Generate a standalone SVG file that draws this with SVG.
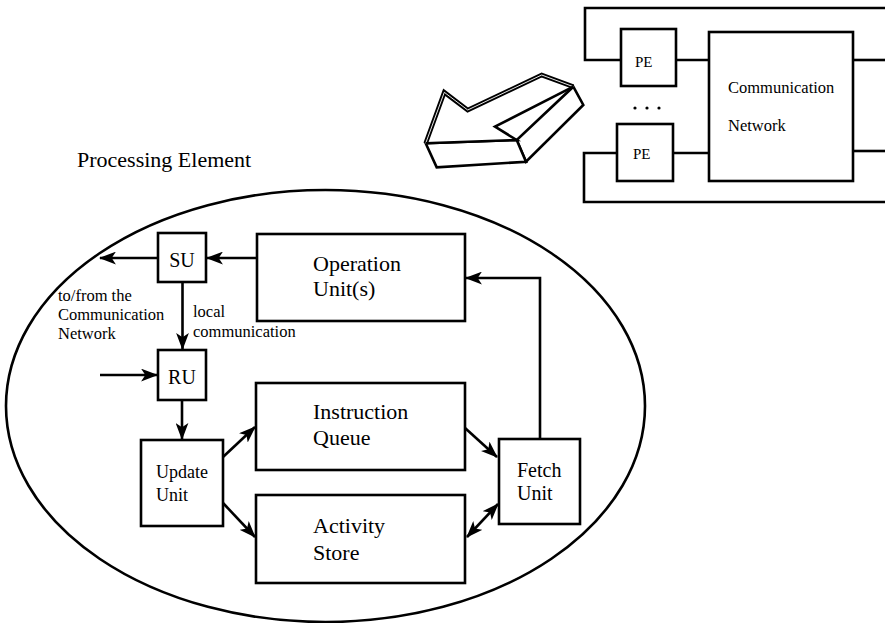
<svg xmlns="http://www.w3.org/2000/svg" width="885" height="623" viewBox="0 0 885 623">
<style>
.b{fill:#fff;stroke:#000;stroke-width:2.6}
.l{fill:none;stroke:#000;stroke-width:2.6}
.big{font-size:22px}
.mid{font-size:20px}
.sm{font-size:16.5px}
.pe{font-size:15px}
</style>
<defs>
<marker id="ah" viewBox="0 0 16 12" refX="15" refY="6" markerWidth="17" markerHeight="13" markerUnits="userSpaceOnUse" orient="auto-start-reverse">
<path d="M0,0 L16,6 L0,12 L4,6 Z" fill="#000"/>
</marker>
</defs>
<rect width="885" height="623" fill="#fff"/>
<g font-family="Liberation Serif, serif" fill="#000">
<g id="network">
<path class="l" d="M621,60 H585 V8 H885"/>
<path class="l" d="M853,60 H885"/>
<path class="l" d="M617,153 H584 V202 H885"/>
<path class="l" d="M853,151 H885"/>
<path class="l" d="M676,60 H709"/>
<path class="l" d="M673,153 H709"/>
<g id="pe1"><rect class="b" x="621" y="29" width="55" height="57"/><text class="pe" x="635" y="67">PE</text></g>
<g id="pe2"><rect class="b" x="617" y="124" width="56" height="57"/><text class="pe" x="633" y="159">PE</text></g>
<g id="commnet"><rect class="b" x="709" y="32" width="144" height="149"/>
<text class="sm" x="728" y="93">Communication</text>
<text class="sm" x="728" y="131">Network</text></g>
<circle cx="635" cy="108" r="1.6"/><circle cx="647" cy="108" r="1.6"/><circle cx="659" cy="108" r="1.6"/>
</g>

<g id="bigarrow" fill="#fff" stroke="#000" stroke-linejoin="miter">
<polygon stroke-width="2.6" points="573.3,86.7 583.3,105 526,161.7 516.7,140"/>
<polygon stroke-width="2.6" points="425.7,143.3 516.7,140 526,161.7 436.7,167.3"/>
<polygon stroke="none" points="425.7,143.3 444.3,92.3 467.7,110 541.7,75 573.3,86.7 495,126.7 516.7,140"/>
<polyline fill="none" stroke-width="4.6" points="425.7,143.3 444.3,92.3 467.7,110 541.7,75 573.3,86.7"/>
<polyline fill="none" stroke="#fff" stroke-width="0.9" points="425.7,143.3 444.3,92.3 467.7,110 541.7,75 573.3,86.7"/>
<polyline fill="none" stroke-width="2.6" points="573.3,86.7 495,126.7 516.7,140 425.7,143.3"/>
</g>

<text class="big" x="77" y="167">Processing Element</text>

<ellipse class="l" cx="325.5" cy="406" rx="319.5" ry="216"/>

<g id="su"><rect class="b" x="158" y="233" width="48" height="49"/><text class="mid" x="182" y="267" text-anchor="middle">SU</text></g>
<g id="ru"><rect class="b" x="158" y="350" width="48" height="50"/><text class="mid" x="182" y="384" text-anchor="middle">RU</text></g>
<g id="opunit"><rect class="b" x="257" y="234" width="208" height="87"/>
<text class="big" x="313" y="271">Operation</text><text class="big" x="313" y="296">Unit(s)</text></g>
<g id="update"><rect class="b" x="141" y="440" width="82" height="86"/>
<text font-size="18" x="156" y="478">Update</text><text font-size="18" x="156" y="501">Unit</text></g>
<g id="iq"><rect class="b" x="256" y="383" width="209" height="87"/>
<text class="big" x="313" y="419">Instruction</text><text class="big" x="313" y="445">Queue</text></g>
<g id="as"><rect class="b" x="256" y="495" width="209" height="88"/>
<text class="big" x="313" y="533">Activity</text><text class="big" x="313" y="560">Store</text></g>
<g id="fetch"><rect class="b" x="499" y="439" width="81" height="85"/>
<text class="mid" x="517" y="477">Fetch</text><text class="mid" x="517" y="500">Unit</text></g>

<g id="labels">
<text class="sm" x="58" y="301">to/from the</text>
<text class="sm" x="58" y="320">Communication</text>
<text class="sm" x="58" y="339">Network</text>
<text class="sm" x="193" y="317">local</text>
<text class="sm" x="193" y="337">communication</text>
</g>

<g id="connectors" class="l" marker-end="url(#ah)">
<line x1="257" y1="258" x2="207" y2="258"/>
<line x1="158" y1="258" x2="100" y2="258"/>
<line x1="182.5" y1="282" x2="182.5" y2="349"/>
<line x1="100" y1="375" x2="157" y2="375"/>
<line x1="182" y1="400" x2="182" y2="439"/>
<path d="M540,439 V278 H466"/>
<line x1="223" y1="457" x2="255" y2="427"/>
<line x1="223" y1="503" x2="255" y2="537"/>
<line x1="465" y1="428" x2="497" y2="457"/>
<line x1="467" y1="537" x2="498" y2="504" marker-start="url(#ah)"/>
</g>
</g>
</svg>
